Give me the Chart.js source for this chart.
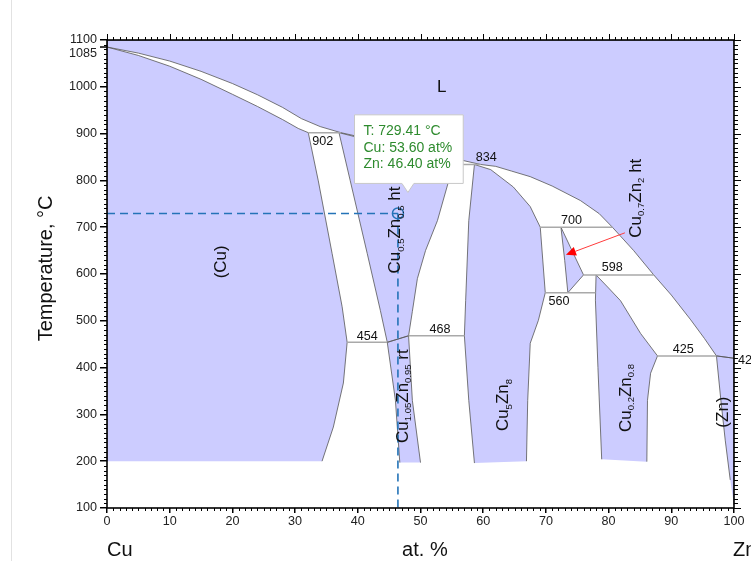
<!DOCTYPE html>
<html>
<head>
<meta charset="utf-8">
<title>Cu–Zn</title>
<script src="https://cdn.jsdelivr.net/npm/chart.js@4.4.1/dist/chart.umd.min.js"></script>
<style>
  html, body { margin: 0; padding: 0; background: #fff; }
  #wrap { position: relative; width: 751px; height: 561px; overflow: hidden; }
  #edge { position: absolute; left: 11px; top: 0; width: 1px; height: 561px; background: #e2e2e2; }
  canvas { position: absolute; left: 0; top: 0; }
</style>
</head>
<body>
<div id="wrap">
  <div id="edge"></div>
  <canvas id="chart" width="751" height="561"></canvas>
</div>
<script>
// Cu–Zn phase diagram: composition in at.% Zn, temperature in °C
const meltCu = 1085;
const meltZn = 420;

// phase boundaries as [at.% Zn, °C]
const liquidus = [[0, meltCu], [5, 1072], [10, 1055], [15, 1033], [20, 1007], [24, 983], [28, 956], [31, 932], [34, 915], [37.3, 902], [42, 888], [48, 870], [54, 851], [59.6, 834], [62, 830], [64.5, 820], [67.5, 808], [71, 788], [75.5, 757], [78.5, 729], [80.6, 700], [84, 650], [87.2, 598], [90, 555], [93.1, 502], [95.3, 462], [97.2, 425], [100, meltZn]];
const solidusCu = [[0, meltCu], [5, 1067], [10, 1044], [15, 1016], [20, 984], [24, 958], [28, 930], [30.5, 911], [32.1, 902]];
const solvusCu = [[32.1, 902], [33.7, 799], [35.9, 644], [37.5, 530], [38.3, 454], [37.7, 367], [36.1, 273], [34.3, 200]];
const betaTop = [[37.0, 902], [42, 885], [48, 865], [53, 848], [56.5, 834]];
const betaRight = [[56.5, 834], [54.5, 799], [52.7, 714], [50.8, 650], [49.5, 590], [48.7, 520], [48.1, 468]];
const betaLeft = [[44.7, 454], [43.6, 522], [41.5, 644], [38.8, 799], [37.0, 902]];
const betaPrimeLeft = [[44.7, 454], [46.0, 330], [46.7, 197]];
const betaPrimeRight = [[48.1, 468], [48.7, 330], [50.0, 197]];
const gammaLeft = [[58.6, 834], [57.7, 714], [57.2, 543], [57.0, 468], [57.7, 330], [58.6, 196]];
const gammaRight = [[58.6, 834], [61.2, 823], [64.8, 786], [67.5, 744], [69.1, 700], [69.5, 630], [69.9, 560], [68.8, 501], [67.5, 452], [67.1, 330], [66.9, 200]];
const deltaField = [[72.4, 700], [76.0, 598], [73.5, 560], [73.0, 629], [72.4, 700]];
const epsRight = [[78.0, 598], [80.0, 570], [81.9, 543], [85.1, 473], [87.8, 425], [86.7, 388], [86.2, 330], [86.1, 199]];
const epsLeft = [[78.9, 204], [78.3, 400], [77.9, 544], [78.0, 598]];
const etaLeft = [[97.2, 425], [97.9, 331], [98.6, 245], [99.4, 160], [100, 106]];

// invariant reactions
const invariantT = [902, 834, 700, 598, 560, 468, 454, 425];
const invariantFrom = [32.1, 56.5, 69.1, 76.0, 69.9, 48.1, 38.3, 87.8];
const invariantTo = [37.3, 59.6, 80.6, 87.2, 77.9, 57.0, 44.7, 97.2];
const invariantLabelX = [34.4, 60.5, 74.1, 80.6, 72.1, 53.1, 41.5, 91.9];
const invariantLabelT = [884, 848, 715, 613, 542, 481, 466, 439];

// phase names and where they sit
const phaseNames = ['L', '(Cu)', 'Cu0.5Zn0.5 ht', 'Cu1.05Zn0.95 rt', 'Cu5Zn8', 'Cu0.7Zn2 ht', 'Cu0.2Zn0.8', '(Zn)'];
const phaseX = [53.4, 18.0, 45.8, 47.0, 63.0, 84.2, 82.6, 98.1];
const phaseT = [1002, 626, 694, 339, 320, 762, 335, 305];
const phaseRotated = [false, true, true, true, true, true, true, true];
const arrowFrom = [82.6, 688];
const arrowTo = [73.2, 641];

// axes
const xTicks = [0, 10, 20, 30, 40, 50, 60, 70, 80, 90, 100];
const yTicks = [100, 200, 300, 400, 500, 600, 700, 800, 900, 1000, 1100];
const yExtraTick = meltCu;
const floorT = 210; // fields are only mapped down to about 200 °C

// read-out cursor
const cursorZn = 46.40;
const cursorT = 729.41;

const FONT = "'Liberation Sans', Arial, Helvetica, sans-serif";
const f = s => `${s}px ${FONT}`;
const PHASE = '#ccccff';
const EDGE = '#555';
const BLUE = '#2473b8';

Chart.defaults.font.family = FONT;

const pts = arr => arr.map(([x, y]) => ({ x, y }));

const regions = [
  [[0, 1100], ...liquidus, [100, 1100], [0, 1100]],
  [...solidusCu, ...solvusCu.slice(1), [0, 200], [0, meltCu]],
  [...betaTop, ...betaRight.slice(1), ...betaLeft],
  [betaPrimeLeft[0], ...betaPrimeRight, ...betaPrimeLeft.slice().reverse()],
  [...gammaRight, ...gammaLeft.slice().reverse()],
  deltaField,
  [...epsRight, ...epsLeft],
  [...etaLeft, [100, meltZn], etaLeft[0]]
];

// outline of a field, broken where it runs along the 200 °C cut-off
function outline(points) {
  const out = [];
  points.forEach(([x, y], i) => {
    if (i > 0) {
      const [px, py] = points[i - 1];
      if (py < floorT && y < floorT) out.push({ x: (px + x) / 2, y: null });
    }
    out.push({ x, y });
  });
  return out;
}

const datasets = [];
regions.forEach(r => {
  datasets.push({
    data: pts(r), showLine: true, fill: 'shape',
    backgroundColor: PHASE, borderWidth: 0, pointRadius: 0, order: 4
  });
  datasets.push({
    data: outline(r), showLine: true, fill: false, spanGaps: false,
    borderColor: EDGE, borderWidth: 0.8, pointRadius: 0, order: 3
  });
});

invariantT.forEach((t, i) => {
  datasets.push({
    data: [{ x: invariantFrom[i], y: t }, { x: invariantTo[i], y: t }],
    showLine: true, fill: false, borderColor: '#a9a9a9', borderWidth: 1.5,
    pointRadius: 0, order: 2
  });
});

// cursor cross-hair
datasets.push({
  data: [{ x: 0, y: cursorT }, { x: cursorZn, y: cursorT }],
  showLine: true, fill: false, borderColor: BLUE, borderWidth: 1.6,
  borderDash: [8, 5], pointRadius: 0, order: 1
});
datasets.push({
  data: [{ x: cursorZn, y: cursorT }, { x: cursorZn, y: 100 }],
  showLine: true, fill: false, borderColor: BLUE, borderWidth: 1.6,
  borderDash: [8, 5], pointRadius: 0, order: 1
});
datasets.push({
  data: [{ x: cursorZn, y: cursorT }],
  showLine: false, pointRadius: 5.5, pointBorderWidth: 1.5,
  pointBorderColor: BLUE, pointBackgroundColor: 'rgba(0,0,0,0)', order: 0
});

function drawFormula(ctx, text, px, py, size, rotated) {
  const runs = text.match(/[^\d.]+|[\d.]+/g).map(p => ({ p, sub: /^[\d.]+$/.test(p) }));
  const subSize = size * 0.56;
  let width = 0;
  for (const r of runs) {
    ctx.font = f(r.sub ? subSize : size);
    r.w = ctx.measureText(r.p).width;
    width += r.w;
  }
  ctx.save();
  ctx.translate(px, py);
  if (rotated) ctx.rotate(-Math.PI / 2);
  ctx.textAlign = 'left';
  ctx.textBaseline = 'alphabetic';
  let cx = -width / 2;
  const base = size * 0.36;
  for (const r of runs) {
    ctx.font = f(r.sub ? subSize : size);
    ctx.fillText(r.p, cx, base + (r.sub ? size * 0.2 : 0));
    cx += r.w;
  }
  ctx.restore();
}

function drawArrow(ctx, x0, y0, x1, y1) {
  const a = Math.atan2(y1 - y0, x1 - x0);
  const head = 10, half = 4.5;
  const bx = x1 - Math.cos(a) * head, by = y1 - Math.sin(a) * head;
  ctx.strokeStyle = '#ff3b3b';
  ctx.lineWidth = 1;
  ctx.beginPath();
  ctx.moveTo(x0, y0);
  ctx.lineTo(bx, by);
  ctx.stroke();
  ctx.fillStyle = '#ff0000';
  ctx.beginPath();
  ctx.moveTo(x1, y1);
  ctx.lineTo(bx + Math.sin(a) * half, by - Math.cos(a) * half);
  ctx.lineTo(bx - Math.sin(a) * half, by + Math.cos(a) * half);
  ctx.closePath();
  ctx.fill();
}

function drawTip(ctx, px, py, lines) {
  ctx.font = f(14);
  const w = Math.max(...lines.map(s => ctx.measureText(s).width)) + 20;
  const lineH = 16.7;
  const h = lines.length * lineH + 18.5;
  const tipX = px + 10, tipY = py - 21;
  const bottom = tipY - 9, top = bottom - h;
  const left = Math.round(tipX - w / 2) + 0.5, right = left + w;
  ctx.beginPath();
  ctx.moveTo(left, top);
  ctx.lineTo(right, top);
  ctx.lineTo(right, bottom);
  ctx.lineTo(tipX + 6, bottom);
  ctx.lineTo(tipX, tipY);
  ctx.lineTo(tipX - 6, bottom);
  ctx.lineTo(left, bottom);
  ctx.closePath();
  ctx.fillStyle = '#fff';
  ctx.fill();
  ctx.strokeStyle = '#c8c8c8';
  ctx.lineWidth = 1;
  ctx.stroke();
  ctx.fillStyle = '#2e8b2e';
  ctx.textAlign = 'left';
  ctx.textBaseline = 'middle';
  lines.forEach((s, i) => ctx.fillText(s, left + 9, top + 8 + lineH * (i + 0.5)));
}

const annotations = {
  id: 'annotations',
  afterDatasetsDraw(chart) {
    const { ctx, scales: { x, y } } = chart;
    ctx.save();
    ctx.fillStyle = '#111';
    phaseNames.forEach((name, i) => {
      drawFormula(ctx, name, x.getPixelForValue(phaseX[i]), y.getPixelForValue(phaseT[i]), 17, phaseRotated[i]);
    });
    ctx.font = f(12.6);
    ctx.textAlign = 'center';
    ctx.textBaseline = 'middle';
    invariantT.forEach((t, i) => {
      ctx.fillText(String(t), x.getPixelForValue(invariantLabelX[i]), y.getPixelForValue(invariantLabelT[i]));
    });
    drawArrow(ctx,
      x.getPixelForValue(arrowFrom[0]), y.getPixelForValue(arrowFrom[1]),
      x.getPixelForValue(arrowTo[0]), y.getPixelForValue(arrowTo[1]));
    ctx.restore();
  },
  afterDraw(chart) {
    const { ctx, chartArea: a, scales: { x, y } } = chart;
    ctx.save();
    // frame
    ctx.strokeStyle = '#000';
    ctx.lineWidth = 1.6;
    ctx.strokeRect(a.left, a.top, a.right - a.left, a.bottom - a.top);
    // minor ticks, plus major ticks on top and right
    ctx.lineWidth = 1;
    ctx.beginPath();
    for (let v = 0; v <= 100; v += 1) {
      const px = Math.round(x.getPixelForValue(v)) + 0.5;
      const major = v % 10 === 0;
      if (!major) { ctx.moveTo(px, a.bottom); ctx.lineTo(px, a.bottom + 3); }
      ctx.moveTo(px, a.top); ctx.lineTo(px, a.top - (major ? 6 : 3));
    }
    for (let t = 100; t <= 1100; t += 10) {
      const py = Math.round(y.getPixelForValue(t)) + 0.5;
      const major = t % 100 === 0;
      if (!major) { ctx.moveTo(a.left, py); ctx.lineTo(a.left - 3, py); }
      ctx.moveTo(a.right, py); ctx.lineTo(a.right + (major ? 7 : 4), py);
    }
    ctx.stroke();
    // extra tick for the melting point of Cu
    const py = y.getPixelForValue(yExtraTick);
    ctx.lineWidth = 1.5;
    ctx.beginPath();
    ctx.moveTo(a.left, py); ctx.lineTo(a.left - 7, py);
    ctx.stroke();
    ctx.fillStyle = '#222';
    ctx.font = f(12.6);
    ctx.textAlign = 'right';
    ctx.textBaseline = 'middle';
    ctx.fillText(String(yExtraTick), a.left - 10, py + 6.5);
    // Zn melting point, right of the frame
    ctx.textAlign = 'left';
    ctx.fillStyle = '#111';
    ctx.fillText(String(meltZn), a.right + 4, y.getPixelForValue(meltZn) + 2);
    // axis titles
    ctx.fillStyle = '#111';
    ctx.font = f(20);
    ctx.textBaseline = 'alphabetic';
    ctx.textAlign = 'left';
    ctx.fillText('Cu', a.left, 556);
    ctx.fillText('Zn', a.right - 1, 556);
    ctx.textAlign = 'center';
    ctx.fillText('at. %', x.getPixelForValue(50.7), 556);
    ctx.save();
    ctx.translate(51.5, y.getPixelForValue(612));
    ctx.rotate(-Math.PI / 2);
    ctx.fillText('Temperature, °C', 0, 0);
    ctx.restore();
    // read-out box
    drawTip(ctx, x.getPixelForValue(cursorZn), y.getPixelForValue(cursorT), [
      `T: ${cursorT.toFixed(2)} °C`,
      `Cu: ${(100 - cursorZn).toFixed(2)} at%`,
      `Zn: ${cursorZn.toFixed(2)} at%`
    ]);
    ctx.restore();
  }
};

new Chart(document.getElementById('chart'), {
  type: 'scatter',
  data: { datasets },
  options: {
    responsive: false,
    devicePixelRatio: 1,
    animation: false,
    events: [],
    layout: { padding: { top: 40, right: 17, left: 0, bottom: 0 } },
    plugins: { legend: { display: false }, tooltip: { enabled: false } },
    scales: {
      x: {
        type: 'linear', min: 0, max: 100,
        afterBuildTicks: s => { s.ticks = xTicks.map(value => ({ value })); },
        ticks: { color: '#222', font: { size: 12.6 }, padding: 1, maxRotation: 0, autoSkip: false, callback: v => String(v) },
        grid: { drawOnChartArea: false, color: '#000', lineWidth: 1.5, tickLength: 5 },
        border: { display: false },
        afterFit: s => { s.height = 53; }
      },
      y: {
        type: 'linear', min: 100, max: 1100,
        afterBuildTicks: s => { s.ticks = yTicks.map(value => ({ value })); },
        ticks: { color: '#222', font: { size: 12.6 }, padding: 3, autoSkip: false, callback: v => String(v) },
        grid: { drawOnChartArea: false, color: '#000', lineWidth: 1.5, tickLength: 7 },
        border: { display: false },
        afterFit: s => { s.width = 107; }
      }
    }
  },
  plugins: [annotations]
});
</script>
</body>
</html>
